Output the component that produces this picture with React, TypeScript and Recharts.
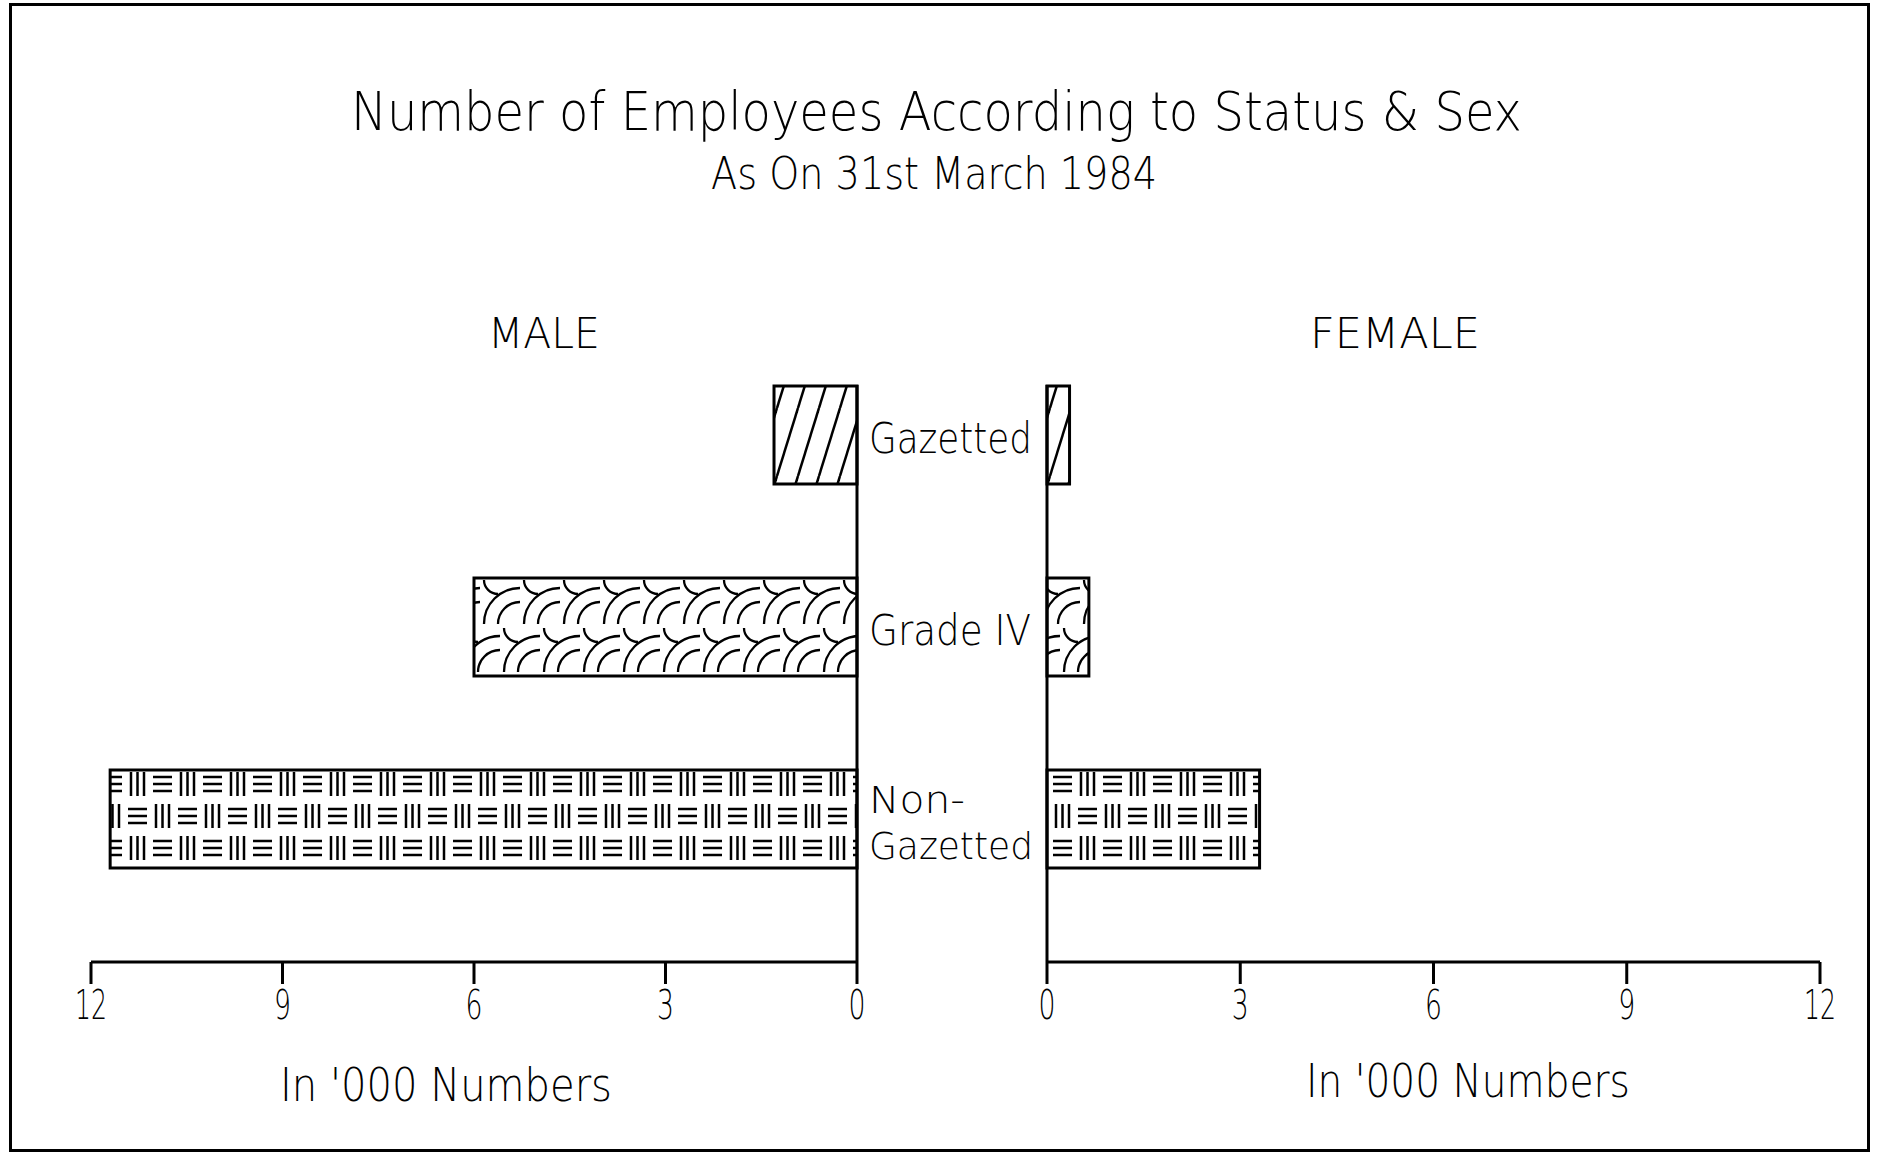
import React from 'react';
import { BarChart, Bar, XAxis, YAxis, Cell } from 'recharts';

const categories = ['Gazetted', 'Grade IV', 'Non-Gazetted'];
const maleValues = [1.3, 6.0, 11.7];
const femaleValues = [0.35, 0.65, 3.3];
const xTicks = [0, 3, 6, 9, 12];
const patternKeys = ['hatch', 'scale', 'weave'];

const titleText = 'Number of Employees According to Status & Sex';
const subtitleText = 'As On 31st March 1984';
const maleLabel = 'MALE';
const femaleLabel = 'FEMALE';
const unitLabel = "In '000 Numbers";

const FONT = '"DejaVu Sans", "Liberation Sans", sans-serif';
const WEIGHT = 200;

const maleData = categories.map((name, i) => ({ name, value: maleValues[i] }));
const femaleData = categories.map((name, i) => ({ name, value: femaleValues[i] }));

const Patterns = ({ prefix }: { prefix: string }) => (
  <defs>
    <pattern id={`${prefix}-hatch`} patternUnits="userSpaceOnUse" width={21} height={68}>
      <line x1={0} y1={68} x2={21} y2={0} stroke="#000" strokeWidth={2.5} />
      <line x1={-21} y1={68} x2={0} y2={0} stroke="#000" strokeWidth={2.5} />
      <line x1={21} y1={68} x2={42} y2={0} stroke="#000" strokeWidth={2.5} />
    </pattern>
    <pattern id={`${prefix}-scale`} patternUnits="userSpaceOnUse" width={40} height={96}>
      <g fill="none" stroke="#000" strokeWidth={2.3}>
        <path d="M 4 48 A 36 36 0 0 1 40 12" />
        <path d="M 18 48 A 22 22 0 0 1 40 26" />
        <path d="M 4 4 A 14 14 0 0 0 18 18" />
        <path d="M -16 96 A 36 36 0 0 1 20 60" />
        <path d="M -2 96 A 22 22 0 0 1 20 74" />
        <path d="M 24 96 A 36 36 0 0 1 60 60" />
        <path d="M 38 96 A 22 22 0 0 1 60 74" />
        <path d="M 24 52 A 14 14 0 0 0 38 66" />
      </g>
    </pattern>
    <pattern id={`${prefix}-weave`} patternUnits="userSpaceOnUse" width={50} height={64}>
      <g stroke="#000" strokeWidth={2.5}>
        <line x1={3} y1={9} x2={22} y2={9} />
        <line x1={3} y1={16} x2={22} y2={16} />
        <line x1={3} y1={23} x2={22} y2={23} />
        <line x1={31} y1={4} x2={31} y2={28} />
        <line x1={37.5} y1={4} x2={37.5} y2={28} />
        <line x1={44} y1={4} x2={44} y2={28} />
        <line x1={6} y1={36} x2={6} y2={60} />
        <line x1={12.5} y1={36} x2={12.5} y2={60} />
        <line x1={19} y1={36} x2={19} y2={60} />
        <line x1={28} y1={41} x2={47} y2={41} />
        <line x1={28} y1={48} x2={47} y2={48} />
        <line x1={28} y1={55} x2={47} y2={55} />
      </g>
    </pattern>
  </defs>
);

const NumTick = (props: any) => {
  const { x, y, payload } = props;
  const v = payload.value;
  return (
    <text
      x={x}
      y={y + 33}
      textAnchor="middle"
      fontSize={41}
      fontFamily={FONT}
      fontWeight={WEIGHT}
      fill="#000"
      textLength={String(v).length > 1 ? 32 : 17}
      lengthAdjust="spacingAndGlyphs"
    >
      {v}
    </text>
  );
};

const catWidths: Record<string, number> = {
  Gazetted: 163,
  'Grade IV': 162,
};

const CatTick = (props: any) => {
  const { x, y, payload } = props;
  const name: string = payload.value;
  const lx = x + 12;
  if (name === 'Non-Gazetted') {
    return (
      <g>
        <text x={lx} y={y - 6} fontSize={38} fontFamily={FONT} fontWeight={WEIGHT} fill="#000" textLength={96} lengthAdjust="spacingAndGlyphs">
          Non-
        </text>
        <text x={lx} y={y + 40} fontSize={38} fontFamily={FONT} fontWeight={WEIGHT} fill="#000" textLength={164} lengthAdjust="spacingAndGlyphs">
          Gazetted
        </text>
      </g>
    );
  }
  return (
    <text x={lx} y={y + 18} fontSize={43} fontFamily={FONT} fontWeight={WEIGHT} fill="#000" textLength={catWidths[name]} lengthAdjust="spacingAndGlyphs">
      {name}
    </text>
  );
};

const axisStyle = { stroke: '#000', strokeWidth: 3 };

const OverlayText = ({ x, y, w, size, children }: any) => (
  <text x={x} y={y} fontSize={size} fontFamily={FONT} fontWeight={WEIGHT} fill="#000" textLength={w} lengthAdjust="spacingAndGlyphs">
    {children}
  </text>
);

export default function App() {
  return (
    <div style={{ position: 'absolute', left: 0, top: 0, width: 1884, height: 1152, background: '#fff', overflow: 'hidden' }}>
      <div
        style={{
          position: 'absolute',
          left: 9,
          top: 3,
          width: 1861,
          height: 1149,
          border: '3px solid #000',
          boxSizing: 'border-box',
        }}
      />
      <div style={{ position: 'absolute', left: 0, top: 0 }}>
        <BarChart
          width={1884}
          height={1152}
          layout="vertical"
          data={maleData}
          margin={{ top: 385, right: 1026, bottom: 130, left: 91 }}
          barSize={98}
        >
          <Patterns prefix="m" />
          <XAxis
            type="number"
            domain={[0, 12]}
            ticks={xTicks}
            reversed
            height={60}
            tickSize={22}
            interval={0}
            axisLine={axisStyle}
            tickLine={axisStyle}
            tick={NumTick}
          />
          <YAxis
            type="category"
            dataKey="name"
            orientation="right"
            width={1}
            padding={{ top: -46, bottom: 47 }}
            axisLine={axisStyle}
            tickLine={false}
            tickSize={0}
            tickMargin={0}
            interval={0}
            tick={CatTick}
          />
          <Bar dataKey="value" isAnimationActive={false} stroke="#000" strokeWidth={3}>
            {maleData.map((d, i) => (
              <Cell key={d.name} fill={`url(#m-${patternKeys[i]})`} />
            ))}
          </Bar>
        </BarChart>
      </div>
      <div style={{ position: 'absolute', left: 0, top: 0 }}>
        <BarChart
          width={1884}
          height={1152}
          layout="vertical"
          data={femaleData}
          margin={{ top: 385, right: 64, bottom: 130, left: 1046 }}
          barSize={98}
        >
          <Patterns prefix="f" />
          <XAxis
            type="number"
            domain={[0, 12]}
            ticks={xTicks}
            height={60}
            tickSize={22}
            interval={0}
            axisLine={axisStyle}
            tickLine={axisStyle}
            tick={NumTick}
          />
          <YAxis
            type="category"
            dataKey="name"
            orientation="left"
            width={1}
            padding={{ top: -46, bottom: 47 }}
            axisLine={axisStyle}
            tickLine={false}
            tick={false}
          />
          <Bar dataKey="value" isAnimationActive={false} stroke="#000" strokeWidth={3}>
            {femaleData.map((d, i) => (
              <Cell key={d.name} fill={`url(#f-${patternKeys[i]})`} />
            ))}
          </Bar>
        </BarChart>
      </div>
      <svg width={1884} height={1152} style={{ position: 'absolute', left: 0, top: 0, pointerEvents: 'none' }}>
        <OverlayText x={351} y={130} w={1171} size={53}>{titleText}</OverlayText>
        <OverlayText x={711} y={189} w={446} size={45}>{subtitleText}</OverlayText>
        <OverlayText x={488} y={348} w={112} size={43}>{maleLabel}</OverlayText>
        <OverlayText x={1310} y={348} w={170} size={43}>{femaleLabel}</OverlayText>
        <OverlayText x={280} y={1101} w={332} size={46}>{unitLabel}</OverlayText>
        <OverlayText x={1306} y={1097} w={324} size={46}>{unitLabel}</OverlayText>
      </svg>
    </div>
  );
}
